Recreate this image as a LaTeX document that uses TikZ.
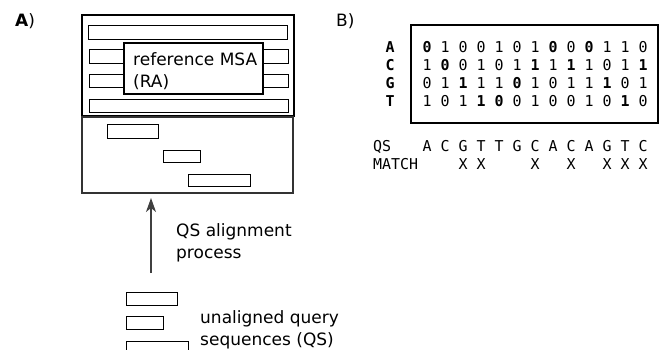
\documentclass[tikz,border=0pt]{standalone}
\usepackage{fontspec}
\setmainfont{DejaVu Sans}
\setmonofont{DejaVu Sans Mono}
\usetikzlibrary{arrows.meta}

\tikzset{
  seqbar/.style={draw, line width=0.9pt},
  panellabel/.style={anchor=base west, inner sep=0pt, font=\fontsize{17}{21}\selectfont},
  lbl/.style={anchor=base west, inner sep=0pt, align=left, font=\fontsize{17}{22}\selectfont},
  bits/.style={anchor=base west, inner sep=0pt, font=\ttfamily\fontsize{14.95}{18}\selectfont},
}

\begin{document}
\begin{tikzpicture}[x=1pt, y=-1pt]
    \useasboundingbox (0,0) rectangle (660,349);
    \clip (0,0) rectangle (660,349);

    % A) reference MSA
    \node[panellabel] (labA) at (15,26) {\textbf{A})};
    \draw[line width=1.3pt] (82,15) rectangle (294,116);
    \draw[seqbar] (88,25) rectangle (287,39);
    \draw[seqbar] (89,49) rectangle (124,63);
    \draw[seqbar] (263,49) rectangle (288,63);
    \draw[seqbar] (89,74) rectangle (124,87);
    \draw[seqbar] (263,74) rectangle (288,87);
    \draw[seqbar] (89,99) rectangle (288,112);
    \draw[line width=1.8pt, fill=white] (124,43) rectangle (263,94);
    % base of a two-line node sits on its last line
    \node[lbl] (ra) at (133,87) {reference MSA\\(RA)};

    % aligned query sequences
    \draw[line width=1.1pt, black!80] (82,117) rectangle (293,193);
    \draw[seqbar] (107,124) rectangle (158,138);
    \draw[seqbar] (163,150) rectangle (200,162);
    \draw[seqbar] (188,174) rectangle (250,186);

    % Стрелка
    \coordinate (qsfrom) at (151,273);
    \coordinate (qsto) at (151,198);
    \draw[line width=1.3pt, black!75, -{Stealth[length=14pt, width=10pt, inset=4pt]}] (qsfrom) -- (qsto);
    \node[lbl] (process) at (176,258) {QS alignment\\process};

    % unaligned query sequences
    \draw[seqbar] (126,292) rectangle (177,305);
    \draw[seqbar] (126,316) rectangle (163,329);
    \draw[seqbar] (126,341) rectangle (188,355);
    \node[lbl] (queries) at (200,345) {unaligned query\\sequences (QS)};

    % B) bit vectors
    \node[panellabel] (labB) at (336,26) {B)};
    \draw[line width=1.3pt] (411,25) rectangle (658,123);
    \foreach \nuc [count=\i] in {A,C,G,T}
        \node[bits, anchor=base] (nuc\nuc) at (390,{52+18*(\i-1)}) {\textbf{\nuc}};
    \node[bits] (rowA) at (422.5,52) {\textbf{0} 1 0 0 1 0 1 \textbf{0} 0 \textbf{0} 1 1 0};
    \node[bits] (rowC) at (422.5,70) {1 \textbf{0} 0 1 0 1 \textbf{1} 1 \textbf{1} 1 0 1 \textbf{1}};
    \node[bits] (rowG) at (422.5,88) {0 1 \textbf{1} 1 1 \textbf{0} 1 0 1 1 \textbf{1} 0 1};
    \node[bits] (rowT) at (422.5,106) {1 0 1 \textbf{1} \textbf{0} 0 1 0 0 1 0 \textbf{1} 0};

    % query and matches
    \node[bits] (qs) at (373,151) {QS};
    \node[bits] (match) at (373,169) {MATCH};
    \foreach \q [count=\i] in {A,C,G,T,T,G,C,A,C,A,G,T,C}
        \node[bits, anchor=base] (qs\i) at ({427+18*(\i-1)},151) {\q};
    \foreach \c in {3,4,7,9,11,12,13}
        \node[bits, anchor=base] (x\c) at ({427+18*(\c-1)},169) {X};
\end{tikzpicture}
\end{document}
